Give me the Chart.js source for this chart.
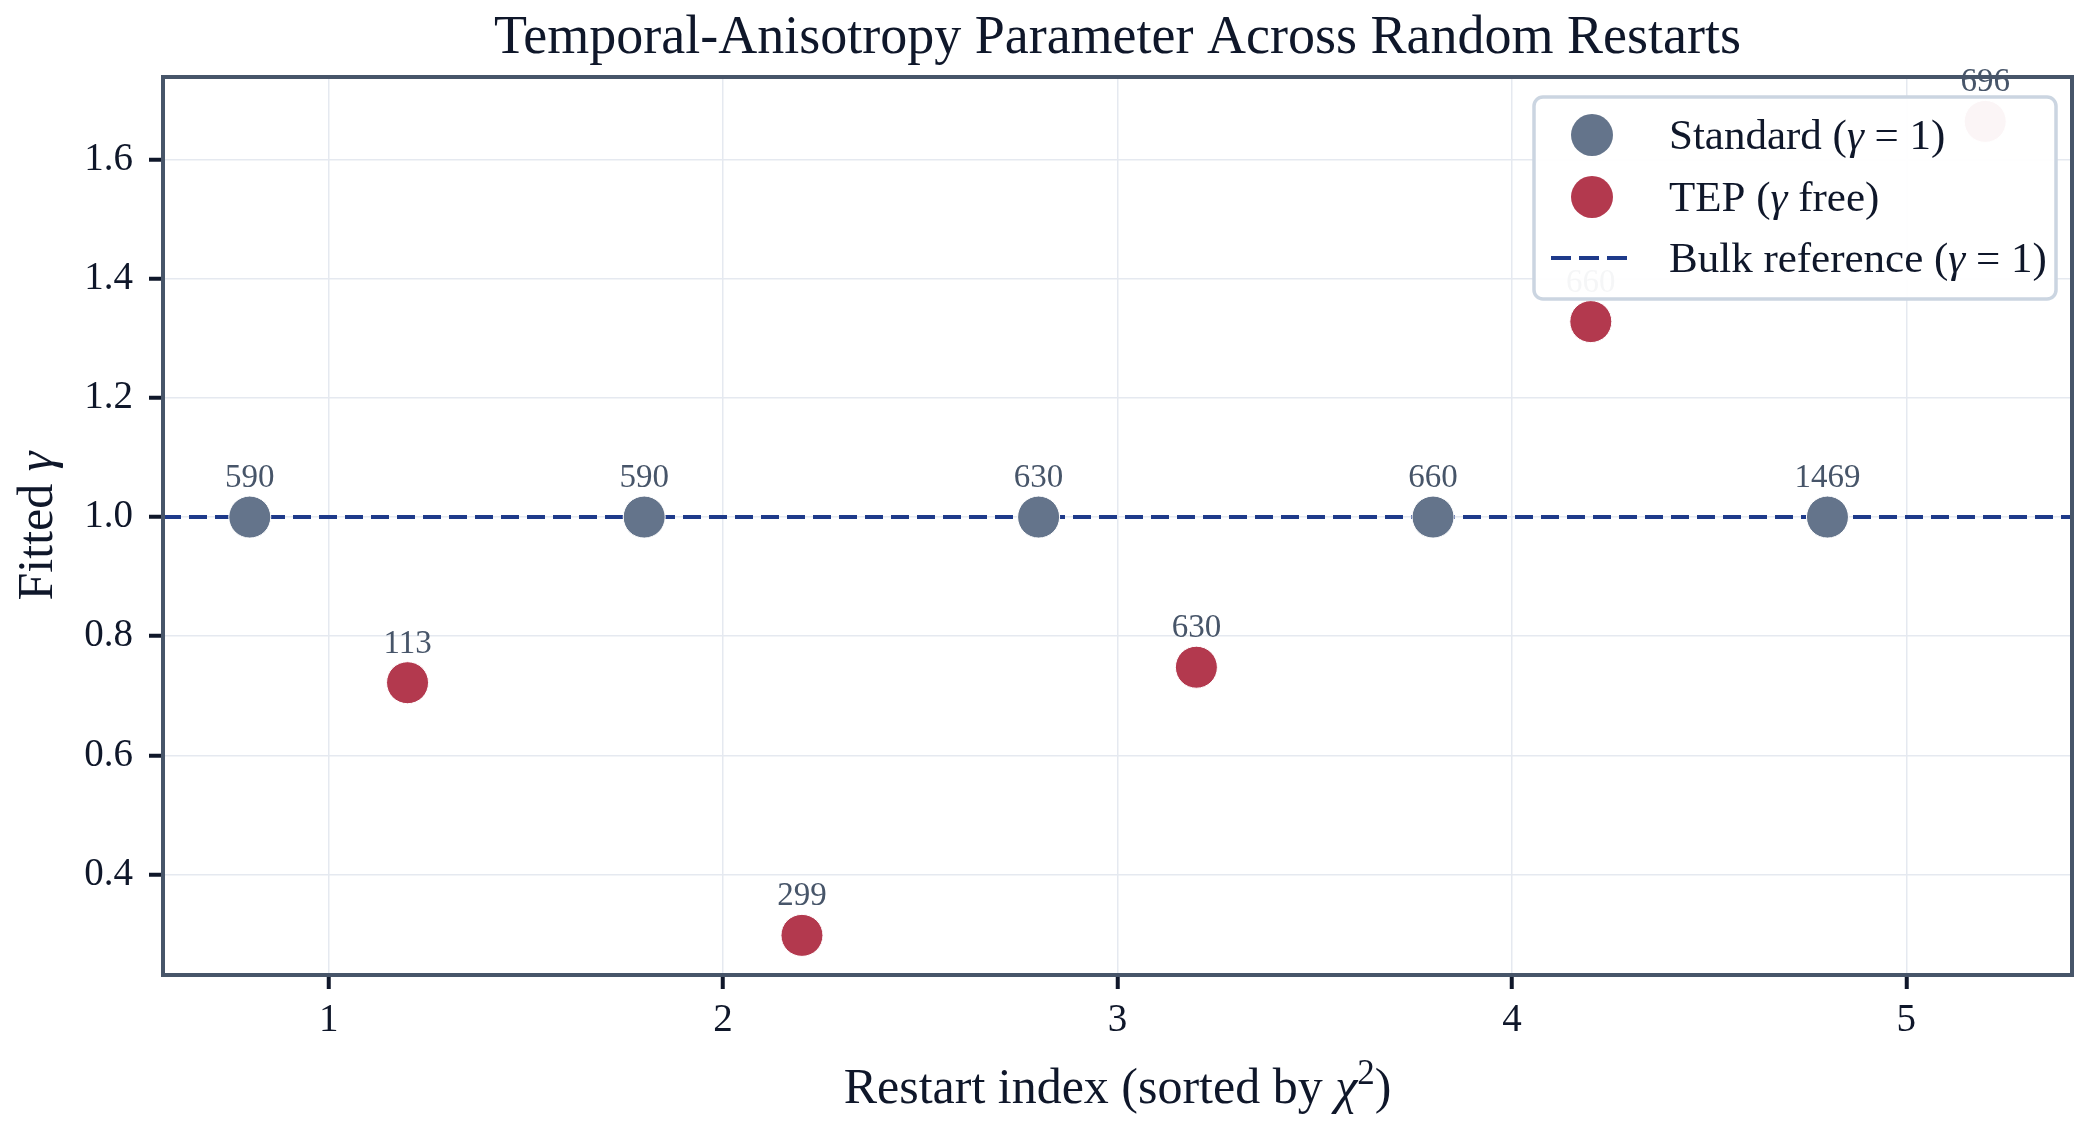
<!DOCTYPE html>
<html>
<head>
<meta charset="utf-8">
<script src="https://cdn.jsdelivr.net/npm/chart.js@4.4.1/dist/chart.umd.min.js"></script>
<style>
  html, body { margin: 0; padding: 0; background: #ffffff; }
  #wrap { width: 2094px; height: 1134px; }
</style>
</head>
<body>
<div id="wrap"><canvas id="gammaChart" width="2094" height="1134"></canvas></div>
<script>
// restart positions (standard shifted left, TEP shifted right of the index)
const standardX = [0.8, 1.8, 2.8, 3.8, 4.8];
const tepX = [1.2, 2.2, 3.2, 4.2, 5.2];
const standardGamma = [1.0, 1.0, 1.0, 1.0, 1.0];
const tepGamma = [0.722, 0.298, 0.748, 1.328, 1.664];
const standardLabels = ['590', '590', '630', '660', '1469'];
const tepLabels = ['113', '299', '630', '660', '696'];
const xTicks = [1, 2, 3, 4, 5];
const yTicks = [0.4, 0.6, 0.8, 1.0, 1.2, 1.4, 1.6];
const referenceGamma = 1.0;

const SERIF = '"Liberation Serif", "Times New Roman", serif';
const INK = '#0f172a';
const STD_COLOR = '#64748b';
const TEP_COLOR = '#b3394e';
const REF_COLOR = '#1e3a8a';
const FRAME_COLOR = '#475569';

function toPoints(xs, ys) {
  return xs.map((x, i) => ({ x: x, y: ys[i] }));
}

// draw text made of pieces (for italic greek letters / superscripts)
function drawPieces(ctx, pieces, x, y, size, align) {
  const widths = pieces.map(p => {
    ctx.font = (p.it ? 'italic ' : '') + Math.round(size * (p.sup ? 0.7 : 1)) + 'px ' + SERIF;
    return ctx.measureText(p.t).width;
  });
  const total = widths.reduce((a, b) => a + b, 0);
  let cx = align === 'center' ? x - total / 2 : x;
  ctx.textAlign = 'left';
  ctx.textBaseline = 'alphabetic';
  pieces.forEach((p, i) => {
    ctx.font = (p.it ? 'italic ' : '') + Math.round(size * (p.sup ? 0.7 : 1)) + 'px ' + SERIF;
    ctx.fillText(p.t, cx, p.sup ? y - size * 0.38 : y);
    cx += widths[i];
  });
}

const decorPlugin = {
  id: 'decor',
  beforeDatasetsDraw(chart) {
    const { ctx, chartArea, scales } = chart;
    const yPix = scales.y.getPixelForValue(referenceGamma);
    ctx.save();
    ctx.strokeStyle = REF_COLOR;
    ctx.lineWidth = 4;
    ctx.setLineDash([18, 8]);
    ctx.beginPath();
    ctx.moveTo(chartArea.left, yPix);
    ctx.lineTo(chartArea.right, yPix);
    ctx.stroke();
    ctx.restore();
  },
  afterDatasetsDraw(chart) {
    const { ctx, chartArea, scales } = chart;
    ctx.save();
    // frame
    ctx.strokeStyle = FRAME_COLOR;
    ctx.lineWidth = 4;
    ctx.strokeRect(chartArea.left, chartArea.top, chartArea.right - chartArea.left, chartArea.bottom - chartArea.top);

    // point annotations
    ctx.fillStyle = FRAME_COLOR;
    ctx.font = '33px ' + SERIF;
    ctx.textAlign = 'center';
    ctx.textBaseline = 'alphabetic';
    standardX.forEach((x, i) => {
      ctx.fillText(standardLabels[i], scales.x.getPixelForValue(x), scales.y.getPixelForValue(standardGamma[i]) - 30);
    });
    tepX.forEach((x, i) => {
      ctx.fillText(tepLabels[i], scales.x.getPixelForValue(x), scales.y.getPixelForValue(tepGamma[i]) - 30);
    });

    // title + axis titles
    ctx.fillStyle = INK;
    const midX = (chartArea.left + chartArea.right) / 2;
    ctx.font = '54px ' + SERIF;
    ctx.textAlign = 'center';
    ctx.fillText('Temporal-Anisotropy Parameter Across Random Restarts', midX, 53);
    drawPieces(ctx, [{ t: 'Restart index (sorted by ' }, { t: 'χ', it: true }, { t: '2', sup: true }, { t: ')' }], midX, 1103, 50, 'center');
    ctx.save();
    ctx.translate(52, (chartArea.top + chartArea.bottom) / 2);
    ctx.rotate(-Math.PI / 2);
    drawPieces(ctx, [{ t: 'Fitted ' }, { t: 'γ', it: true }], 0, 0, 50, 'center');
    ctx.restore();

    // legend
    const lx = 1534, ly = 97, lw = 522, lh = 202;
    ctx.fillStyle = 'rgba(255,255,255,0.95)';
    ctx.strokeStyle = '#cbd5e1';
    ctx.lineWidth = 3.5;
    ctx.beginPath();
    ctx.roundRect(lx, ly, lw, lh, 9);
    ctx.fill();
    ctx.stroke();

    const rows = [
      { y: 135, kind: 'dot', color: STD_COLOR, pieces: [{ t: 'Standard (' }, { t: 'γ', it: true }, { t: ' = 1)' }] },
      { y: 197, kind: 'dot', color: TEP_COLOR, pieces: [{ t: 'TEP (' }, { t: 'γ', it: true }, { t: ' free)' }] },
      { y: 258, kind: 'line', color: REF_COLOR, pieces: [{ t: 'Bulk reference (' }, { t: 'γ', it: true }, { t: ' = 1)' }] }
    ];
    rows.forEach(r => {
      if (r.kind === 'dot') {
        ctx.fillStyle = r.color;
        ctx.beginPath();
        ctx.arc(1592, r.y, 21, 0, Math.PI * 2);
        ctx.fill();
      } else {
        ctx.strokeStyle = r.color;
        ctx.lineWidth = 4;
        ctx.setLineDash([20, 8]);
        ctx.beginPath();
        ctx.moveTo(1551, r.y);
        ctx.lineTo(1634, r.y);
        ctx.stroke();
        ctx.setLineDash([]);
      }
      ctx.fillStyle = INK;
      drawPieces(ctx, r.pieces, 1669, r.y + 14, 42.5, 'left');
    });
    ctx.restore();
  }
};

const ctx = document.getElementById('gammaChart').getContext('2d');
new Chart(ctx, {
  type: 'scatter',
  data: {
    datasets: [
      {
        label: 'Standard (γ = 1)',
        data: toPoints(standardX, standardGamma),
        backgroundColor: STD_COLOR,
        borderColor: '#ffffff',
        borderWidth: 1,
        pointRadius: 21,
        pointHoverRadius: 21,
        clip: false
      },
      {
        label: 'TEP (γ free)',
        data: toPoints(tepX, tepGamma),
        backgroundColor: TEP_COLOR,
        borderColor: '#ffffff',
        borderWidth: 1,
        pointRadius: 21,
        pointHoverRadius: 21,
        clip: false
      }
    ]
  },
  options: {
    responsive: false,
    animation: false,
    events: [],
    layout: { padding: { top: 77, right: 17, left: 0, bottom: 0 } },
    plugins: {
      legend: { display: false },
      title: { display: false },
      tooltip: { enabled: false }
    },
    scales: {
      x: {
        type: 'linear',
        min: 0.58,
        max: 5.42,
        afterFit: scale => { scale.height = 159; },
        afterBuildTicks: scale => { scale.ticks = xTicks.map(v => ({ value: v })); },
        border: { display: false },
        grid: { color: '#e5e9f0', lineWidth: 1.5, tickColor: INK, tickWidth: 4, tickLength: 14 },
        ticks: { color: INK, font: { family: SERIF, size: 39 }, padding: 8, callback: v => String(v) }
      },
      y: {
        type: 'linear',
        min: 0.2315,
        max: 1.7385,
        afterFit: scale => { scale.width = 163; },
        afterBuildTicks: scale => { scale.ticks = yTicks.map(v => ({ value: v })); },
        border: { display: false },
        grid: { color: '#e5e9f0', lineWidth: 1.5, tickColor: INK, tickWidth: 4, tickLength: 14 },
        ticks: { color: INK, font: { family: SERIF, size: 39 }, padding: 16, callback: v => v.toFixed(1) }
      }
    }
  },
  plugins: [decorPlugin]
});
</script>
</body>
</html>
